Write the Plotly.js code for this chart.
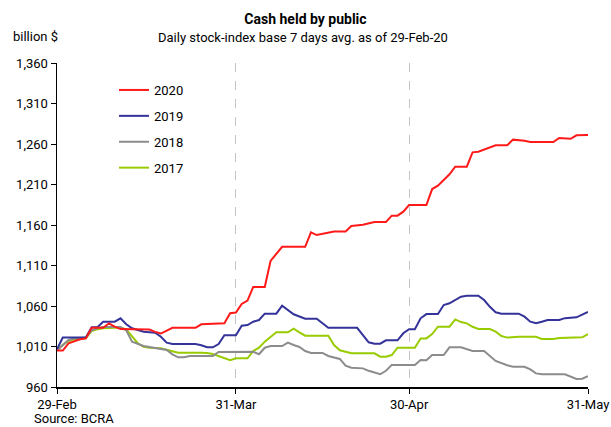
<!DOCTYPE html>
<html>
<head>
<meta charset="utf-8">
<script src="https://cdn.plot.ly/plotly-3.0.1.min.js"></script>
<style>html,body{margin:0;padding:0;background:#fff;}#chart{width:611px;height:427px;}</style>
</head>
<body>
<div id="chart"></div>
<script>
// Day offsets from 29-Feb and values (billion $)
const baseDate = '2020-02-29';
const tickDays = [0, 31, 61, 92];
const tickLabels = ['29-Feb', '31-Mar', '30-Apr', '31-May'];
const seriesNames = ['2020', '2019', '2018', '2017'];

const days2020 = [0,1,2,3,4,5,6,7,8,9,10,11,16,17,18,20,24,25,27,29,30,31,32,33,34,36,37,39,43,44,45,46,48,50,51,53,55,57,58,59,60,61,64,65,66,68,69,71,72,73,75,76,78,79,81,82,86,87,89,90,92];
const vals2020 = [1005,1005,1014,1017,1019,1020,1033,1033,1033,1038.6,1034.5,1031.5,1031,1028,1026,1033,1033,1037.4,1038,1038.6,1051,1052,1062.5,1066.6,1083.5,1083.5,1115.6,1133,1133,1151,1147.6,1149,1152,1152,1158.8,1160.4,1163.7,1163.7,1171.5,1171.5,1176.5,1184.7,1184.7,1204.4,1208.5,1222.6,1232,1232,1249.7,1250.5,1256,1258.4,1258.4,1265.4,1264,1262.5,1262.5,1267.4,1266.5,1270.7,1271];

const days2019 = [0,1,5,6,7,8,10,11,12,13,15,17,18,19,20,24,25,26,27,28,29,31,32,33,34,35,36,38,39,40,41,43,45,47,52,54,55,56,57,59,60,61,62,63,64,66,67,68,69,70,71,73,74,75,76,77,80,81,82,83,84,85,87,88,90,91,92];
const vals2019 = [1006.5,1021,1021,1033.7,1033.7,1040.6,1040.6,1044.8,1037.4,1032.5,1028.3,1027,1022,1014.7,1013,1013,1011.5,1009,1009,1013,1024,1024,1035.7,1036.5,1040.6,1042.7,1050.5,1050.5,1060.4,1055,1049.8,1044.3,1044.3,1033,1033,1015.2,1013.5,1013.5,1017.6,1017.6,1026.3,1031.3,1031.3,1044.8,1050,1050,1061.2,1063.3,1067.4,1071.5,1072.7,1072.7,1067.4,1059,1052.2,1050.5,1050.5,1046.8,1040.6,1038.6,1040.6,1042.7,1042.7,1045,1046,1049,1052.6];

const days2018 = [0,1,2,3,5,6,7,8,11,12,13,15,17,19,20,21,22,23,27,28,34,35,36,37,39,40,41,42,43,44,46,47,49,50,51,53,54,56,57,58,62,63,64,65,67,68,70,71,72,74,75,76,78,79,81,82,83,84,88,89,90,91,92];
const vals2018 = [1005.5,1012,1018,1020,1021,1030,1032.5,1034,1034,1030,1016,1010.6,1007.7,1005.7,1000.4,996.7,996.7,998.3,998.3,1003.3,1003.5,1000.4,1008.5,1010.6,1010.6,1014.7,1011.8,1009.4,1004.4,1002,1002,998.3,994.6,986.3,983.9,983,980,975.7,980,987.3,987.3,993.3,993,999.5,999.5,1009,1009,1006.5,1004.4,1004.4,998.3,992.2,986.8,985,985,981.8,976.8,975.6,975.6,972.8,970,970.3,973.5];

const days2017 = [0,1,2,3,5,6,7,8,10,11,12,13,14,15,16,18,20,21,25,26,27,28,30,31,33,34,35,36,38,40,41,42,43,47,48,49,51,55,56,57,58,59,62,63,64,65,66,68,69,70,71,72,73,75,76,77,78,80,83,84,86,87,91,92];
const vals2017 = [1005.5,1011.8,1016.8,1019,1020,1029,1031.2,1032.5,1033,1033,1031.2,1022,1014,1009.7,1008.5,1007.7,1004.4,1002.3,1002.3,1002,1000.7,997.9,993,995.4,995.4,1004.4,1008.5,1016,1027.5,1027.5,1032,1027.5,1023.3,1023.3,1011.8,1005.3,1001.6,1001.6,997.5,997.5,999.5,1008.5,1008.5,1020,1020,1025.4,1034.4,1034.4,1043.5,1040.2,1038.6,1034.4,1031.6,1031.6,1028.3,1023,1021,1022,1022,1019.3,1019.3,1020.5,1021.4,1025.4];

const colors = ['#ff1a1a', '#333399', '#8c8c8c', '#99cc00'];

function toDate(d) {
  const t = new Date(baseDate + 'T00:00:00Z');
  t.setUTCDate(t.getUTCDate() + d);
  return t.toISOString().slice(0, 10);
}

const allDays = [days2020, days2019, days2018, days2017];
const allVals = [vals2020, vals2019, vals2018, vals2017];

// drawn 2017 first so 2020 sits on top; legend lists 2020 first
const traces = seriesNames.map((name, i) => ({
  type: 'scatter',
  mode: 'lines',
  name: name,
  legendgroup: name,
  legendrank: i + 1,
  x: allDays[i].map(toDate),
  y: allVals[i],
  line: {color: colors[i], width: 2},
  hoverinfo: 'x+y+name'
})).reverse();

const font = 'Roboto, "Liberation Sans", Arial, sans-serif';

const layout = {
  width: 611, height: 427,
  margin: {l: 57, r: 23, t: 63, b: 40},
  paper_bgcolor: '#ffffff',
  plot_bgcolor: '#ffffff',
  font: {family: font, size: 13, color: '#000'},
  title: {
    text: '<b>Cash held by public</b>',
    font: {family: font, size: 14, color: '#000'},
    x: 0.5, xref: 'container', xanchor: 'center',
    y: 1 - 19 / 427, yref: 'container', yanchor: 'middle'
  },
  showlegend: true,
  legend: {
    x: (114 - 57) / 531, xanchor: 'left',
    y: 1 - (75 - 63) / 324, yanchor: 'top',
    traceorder: 'grouped',
    tracegroupgap: 6,
    itemwidth: 30,
    bgcolor: 'rgba(0,0,0,0)',
    font: {family: font, size: 13, color: '#000'}
  },
  xaxis: {
    type: 'date',
    range: [toDate(0), toDate(92)],
    tickvals: tickDays.map(toDate),
    ticktext: tickLabels,
    ticks: 'outside', ticklen: 5, tickcolor: '#000', tickwidth: 1,
    showline: true, linecolor: '#000', linewidth: 1.5,
    showgrid: true, gridcolor: '#c4c4c4', griddash: 'dash', gridwidth: 1,
    zeroline: false,
    tickfont: {family: font, size: 13, color: '#000'}
  },
  yaxis: {
    range: [960, 1360],
    tick0: 960, dtick: 50,
    tickformat: ',d',
    ticks: 'outside', ticklen: 5, tickcolor: '#000', tickwidth: 1,
    showline: true, linecolor: '#000', linewidth: 1.5,
    showgrid: false, zeroline: false,
    tickfont: {family: font, size: 13, color: '#000'}
  },
  annotations: [
    {
      text: 'Daily stock-index base 7 days avg. as of 29-Feb-20',
      xref: 'paper', yref: 'paper',
      x: (303 - 57) / 531, y: 1 + (63 - 37) / 324,
      xanchor: 'center', yanchor: 'middle', showarrow: false,
      font: {family: font, size: 13, color: '#000'}
    },
    {
      text: 'billion $',
      xref: 'paper', yref: 'paper',
      x: (11 - 57) / 531, y: 1 + (63 - 36) / 324,
      xanchor: 'left', yanchor: 'middle', showarrow: false,
      font: {family: font, size: 13, color: '#000'}
    },
    {
      text: 'Source: BCRA',
      xref: 'paper', yref: 'paper',
      x: (32 - 57) / 531, y: -(418 - 387) / 324,
      xanchor: 'left', yanchor: 'middle', showarrow: false,
      font: {family: font, size: 13, color: '#000'}
    }
  ]
};

Plotly.newPlot('chart', traces, layout, {displayModeBar: false, staticPlot: true});
</script>
</body>
</html>
